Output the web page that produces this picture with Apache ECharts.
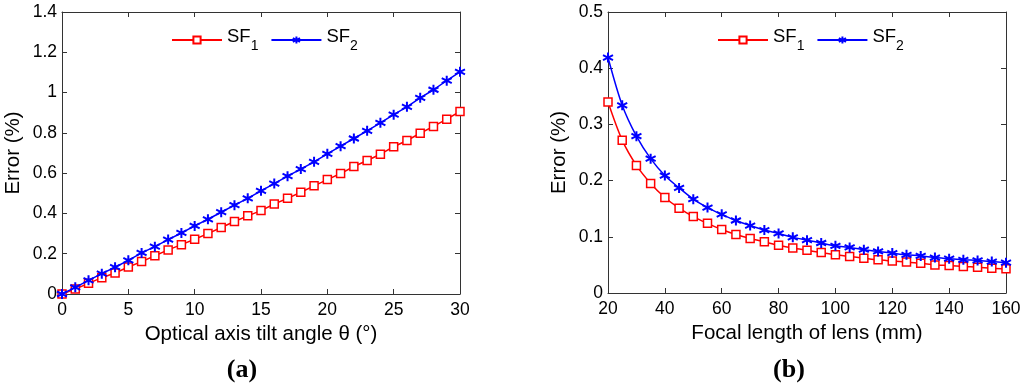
<!DOCTYPE html>
<html><head><meta charset="utf-8">
<script src="https://cdn.jsdelivr.net/npm/echarts@6/dist/echarts.min.js"></script>
<style>html,body{margin:0;padding:0;background:#fff}#c{width:1024px;height:388px}</style>
</head><body><div id="c"></div>
<script>
// Panel (a)
const angleX = [0,1,2,3,4,5,6,7,8,9,10,11,12,13,14,15,16,17,18,19,20,21,22,23,24,25,26,27,28,29,30];
const aSF1 = [0,0.025,0.053,0.081,0.104,0.134,0.161,0.19,0.219,0.245,0.272,0.30,0.33,0.36,0.388,0.414,0.447,0.475,0.505,0.537,0.568,0.598,0.633,0.663,0.694,0.731,0.762,0.798,0.832,0.868,0.906];
const aSF2 = [0,0.033,0.068,0.101,0.133,0.167,0.204,0.235,0.27,0.303,0.338,0.371,0.406,0.441,0.475,0.512,0.548,0.585,0.62,0.656,0.696,0.734,0.772,0.81,0.85,0.89,0.929,0.974,1.014,1.059,1.103];
// Panel (b)
const focalX = [20,25,30,35,40,45,50,55,60,65,70,75,80,85,90,95,100,105,110,115,120,125,130,135,140,145,150,155,160];
const bSF1 = [0.340,0.272,0.227,0.195,0.170,0.151,0.136,0.124,0.113,0.104,0.097,0.091,0.085,0.080,0.076,0.072,0.068,0.065,0.062,0.059,0.057,0.055,0.053,0.050,0.049,0.047,0.046,0.044,0.043];
const bSF2 = [0.419,0.334,0.279,0.239,0.209,0.187,0.167,0.152,0.140,0.129,0.120,0.112,0.106,0.099,0.094,0.089,0.084,0.081,0.077,0.074,0.071,0.068,0.066,0.063,0.061,0.059,0.058,0.056,0.054];
const seriesNames = ['SF1','SF2'];
const xTitleA = 'Optical axis tilt angle θ (°)';
const xTitleB = 'Focal length of lens (mm)';
const yTitle = 'Error (%)';
const captions = ['(a)','(b)'];

const FONT = 'Liberation Sans, Arial, sans-serif';
const AX = '#333';
const star = 'path://M0,-5L0,5M-4.33,-2.5L4.33,2.5M-4.33,2.5L4.33,-2.5';
const pair = (xs, ys) => xs.map((x, i) => [x, ys[i]]);

function xAx(grid, min, max, interval, name, show) {
  return {
    type: 'value', gridIndex: grid, min, max, interval, position: show ? 'bottom' : 'top',
    name: show ? name : '', nameLocation: 'middle', nameGap: 30,
    nameTextStyle: { fontFamily: FONT, fontSize: 20.5, color: '#000' },
    axisLine: { show: true, onZero: false, lineStyle: { color: AX, width: 1 } },
    axisTick: { show: true, inside: true, length: 5, lineStyle: { color: AX } },
    axisLabel: { show: show, fontFamily: FONT, fontSize: 17.5, color: '#000', margin: 7 },
    splitLine: { show: false }
  };
}
function yAx(grid, min, max, interval, show) {
  return {
    type: 'value', gridIndex: grid, min, max, interval, position: show ? 'left' : 'right',
    name: show ? yTitle : '', nameLocation: 'middle', nameGap: 38,
    nameTextStyle: { fontFamily: FONT, fontSize: 20.5, color: '#000' },
    axisLine: { show: true, onZero: false, lineStyle: { color: AX, width: 1 } },
    axisTick: { show: true, inside: true, length: 5, lineStyle: { color: AX } },
    axisLabel: { show: show, fontFamily: FONT, fontSize: 17.5, color: '#000', margin: 5 },
    splitLine: { show: false }
  };
}
function ser(name, xi, yi, data, color, isStar, smooth) {
  return {
    name, type: 'line', xAxisIndex: xi, yAxisIndex: yi, data, smooth,
    symbol: isStar ? star : 'rect', symbolSize: isStar ? 10 : 8,
    showSymbol: true, animation: false,
    lineStyle: { color, width: 1.5 },
    itemStyle: { color: isStar ? color : '#fff', borderColor: color, borderWidth: isStar ? 2 : 1.5 },
    z: isStar ? 3 : 2
  };
}
function leg(left) {
  return {
    left, top: 22, itemWidth: 50, itemHeight: 9, itemGap: 12,
    data: seriesNames, selectedMode: false,
    formatter: n => '{a|SF}{s|' + n.slice(2) + '}',
    textStyle: { rich: {
      a: { fontFamily: FONT, fontSize: 18.5, color: '#000', lineHeight: 26, verticalAlign: 'top' },
      s: { fontFamily: FONT, fontSize: 14, color: '#000', lineHeight: 26, verticalAlign: 'bottom', padding: [11, 0, 0, 0] }
    } }
  };
}

const chart = echarts.init(document.getElementById('c'), null, { renderer: 'canvas' });
chart.setOption({
  backgroundColor: '#fff',
  animation: false,
  grid: [
    { left: 62, top: 12, width: 398, height: 282 },
    { left: 608, top: 12, width: 398, height: 281 }
  ],
  xAxis: [
    xAx(0, 0, 30, 5, xTitleA, true), xAx(0, 0, 30, 5, '', false),
    xAx(1, 20, 160, 20, xTitleB, true), xAx(1, 20, 160, 20, '', false)
  ],
  yAxis: [
    yAx(0, 0, 1.4, 0.2, true), yAx(0, 0, 1.4, 0.2, false),
    yAx(1, 0, 0.5, 0.1, true), yAx(1, 0, 0.5, 0.1, false)
  ],
  legend: [leg(166), leg(712)],
  title: [
    { text: captions[0], left: 237, top: 352, textAlign: 'center', textStyle: { fontFamily: 'Liberation Serif, Times New Roman, serif', fontWeight: 'bold', fontSize: 26, color: '#000' } },
    { text: captions[1], left: 784, top: 352, textAlign: 'center', textStyle: { fontFamily: 'Liberation Serif, Times New Roman, serif', fontWeight: 'bold', fontSize: 26, color: '#000' } }
  ],
  series: [
    ser(seriesNames[0], 0, 0, pair(angleX, aSF1), '#ff0000', false, false),
    ser(seriesNames[1], 0, 0, pair(angleX, aSF2), '#0000ff', true, false),
    ser(seriesNames[0], 2, 2, pair(focalX, bSF1), '#ff0000', false, 0.3),
    ser(seriesNames[1], 2, 2, pair(focalX, bSF2), '#0000ff', true, 0.3)
  ]
});
</script></body></html>
